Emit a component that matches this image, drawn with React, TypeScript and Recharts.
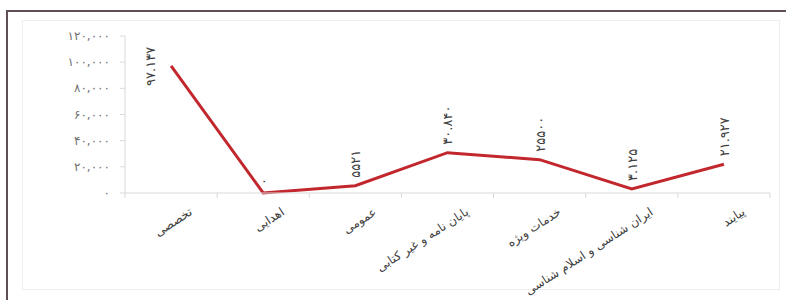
import React from "react";
import { LineChart, Line, XAxis, YAxis, LabelList } from "recharts";

const categories = [
  "تخصصی",
  "اهدایی",
  "عمومی",
  "پایان نامه و غیر کتابی",
  "خدمات ویژه",
  "ایران شناسی و اسلام شناسی",
  "پیایند",
];
const counts = [97137, 0, 5521, 30840, 25500, 3125, 21927];
const countLabels = ["۹۷.۱۳۷", "۰", "۵۵۲۱", "۳۰.۸۴۰", "۲۵۵۰۰", "۳.۱۲۵", "۲۱.۹۲۷"];
const yTicks = [0, 20000, 40000, 60000, 80000, 100000, 120000];

const data = categories.map((name, i) => ({ name, count: counts[i] }));

const FONT = "'DejaVu Sans', sans-serif";
const AXIS = "#d9d9d9";

const faDigits = "۰۱۲۳۴۵۶۷۸۹";
const toFa = (s: string) => s.replace(/[0-9]/g, (d) => faDigits[Number(d)]);

// category label plus the small tick marks that sit on the band edges
function CategoryTick(props: any) {
  const { x, y, payload, index } = props;
  const half = payload?.offset ? payload.offset : 46;
  return (
    <g>
      {index === 0 && (
        <line x1={x - half} y1={y} x2={x - half} y2={y + 5} stroke={AXIS} />
      )}
      <line x1={x + half} y1={y} x2={x + half} y2={y + 5} stroke={AXIS} />
      <text
        x={x + 22}
        y={y + 21}
        transform={`rotate(-33 ${x + 22} ${y + 21})`}
        textAnchor="end"
        fontSize={12}
        fill="#404040"
        fontFamily={FONT}
      >
        {payload.value}
      </text>
    </g>
  );
}

function ValueTick(props: any) {
  const { x, y, payload } = props;
  return (
    <text
      x={x - 10}
      y={y + 4}
      textAnchor="end"
      fontSize={12}
      letterSpacing={2.6}
      fill="#707070"
      fontFamily={FONT}
    >
      {toFa(Number(payload.value).toLocaleString("en-US"))}
    </text>
  );
}

function ValueLabel(props: any) {
  const { x, y, index } = props;
  const text = countLabels[index];
  // the tallest point has no room above it, so its label goes to the left
  const left = y < 90;
  const ax = left ? x - 16 : x + 5;
  const ay = left ? y + 20 : y - 8;
  return (
    <text
      x={ax}
      y={ay}
      transform={`rotate(-90 ${ax} ${ay})`}
      textAnchor="start"
      fontSize={13}
      letterSpacing={0.8}
      fill="#404040"
      fontFamily={FONT}
    >
      {text}
    </text>
  );
}

export default function App() {
  return (
    <div
      style={{
        position: "absolute",
        left: 0,
        top: 0,
        width: 786,
        height: 300,
        overflow: "hidden",
        background: "#fff",
      }}
    >
      <div
        style={{
          position: "absolute",
          left: 6,
          top: 10,
          width: 800,
          height: 300,
          border: "2px solid #5e4e56",
          boxSizing: "border-box",
        }}
      />
      <div
        style={{
          position: "absolute",
          left: 22,
          top: 20,
          width: 758,
          height: 270,
          border: "1px solid #eeeeee",
          boxSizing: "border-box",
        }}
      />
      <div style={{ position: "absolute", left: 0, top: 0 }}>
        <LineChart
          width={786}
          height={300}
          data={data}
          margin={{ top: 36, right: 16, bottom: 7, left: 65 }}
        >
          <XAxis
            dataKey="name"
            type="category"
            scale="band"
            height={100}
            interval={0}
            stroke={AXIS}
            tickLine={false}
            tickSize={0}
            tickMargin={0}
            tick={<CategoryTick />}
          />
          <YAxis
            width={60}
            domain={[0, 120000]}
            ticks={yTicks}
            interval={0}
            stroke={AXIS}
            tickSize={5}
            tickMargin={0}
            tick={<ValueTick />}
          />
          <Line
            type="linear"
            dataKey="count"
            stroke="#c1272d"
            strokeWidth={3}
            dot={false}
            isAnimationActive={false}
          >
            <LabelList dataKey="count" content={<ValueLabel />} />
          </Line>
        </LineChart>
      </div>
    </div>
  );
}
